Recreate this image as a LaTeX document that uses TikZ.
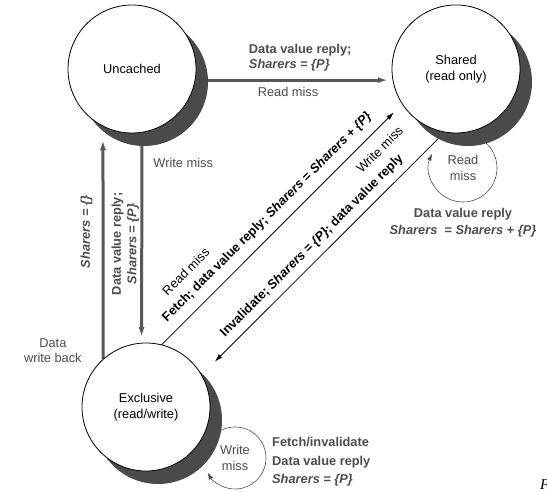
\documentclass[tikz,border=0pt]{standalone}
\usepackage{fontspec}
\setmainfont{Liberation Sans}
\newfontfamily\capfont{Liberation Serif}
\usepackage{xcolor}
\usetikzlibrary{arrows.meta, positioning, shadows, backgrounds}

\definecolor{busgray}{HTML}{585858}
\definecolor{shadegray}{HTML}{4A4A4A}
\definecolor{txtgray}{HTML}{4C4C4C}

\begin{document}
\begin{tikzpicture}[x=1pt, y=1pt,
    font=\fontsize{12.8}{15.5}\selectfont,
    cstate/.style={circle, draw=black, line width=0.8pt, fill=white,
      minimum size=128pt, inner sep=0pt, outer sep=0pt, align=center,
      font=\fontsize{12.8}{16.5}\selectfont,
      drop shadow={shadow xshift=12pt, shadow yshift=-13pt, fill=shadegray, opacity=1}},
    bus/.style={line width=3pt, draw=busgray, >={Latex[length=10pt,width=6pt]}},
    msg/.style={line width=0.8pt, >={Latex[length=8pt,width=5pt]}},
    selfloop/.style={line width=0.6pt, draw=txtgray, ->, >={Latex[length=7pt,width=4.5pt]}},
    lbl/.style={text=txtgray, inner sep=1pt},
    blbl/.style={text=txtgray, inner sep=1pt, font=\fontsize{12.8}{15.5}\selectfont\bfseries},
    dlbl/.style={inner sep=1pt, sloped, anchor=base west},
  ]
  \useasboundingbox (0,0) rectangle (547,491);

  % states
  \node[cstate] (un) at (132,422) {Uncached};
  \node[cstate] (sh) at (456,422) {Shared\\(read only)};
  \node[cstate] (ex) at (146,84) {Exclusive\\(read/write)};

  % self loop texts
  \node[lbl, align=center] (rmiss) at (463,323) {Read\\miss};
  \node[lbl, align=center] (wmiss) at (235,33) {Write\\miss};
  \node[blbl, align=center, below=39pt of rmiss.center,
    font=\fontsize{12.8}{17}\selectfont\bfseries] (rlbl)
    {Data value reply\\\textit{Sharers\ \ = Sharers + \{P\}}};
  \node[blbl, align=left, right=36pt of wmiss.center, yshift=-4pt,
    font=\fontsize{12.8}{18.5}\selectfont\bfseries] (wlbl)
    {Fetch/invalidate\\Data value reply\\\textit{Sharers = \{P\}}};

  \node[anchor=base west, inner sep=0pt, font=\fontsize{15}{15}\selectfont\capfont\itshape] (cut) at (540,2) {F};

  \begin{scope}[on background layer]
    \draw[bus, ->, shorten >=5pt] (un.-10) --
      node[blbl, pos=0.26, anchor=south west, align=left, yshift=6pt] {Data value reply;\\\textit{Sharers = \{P\}}}
      node[lbl, pos=0.47, below=5pt] {Read miss} (sh.-170);

    \draw[bus, ->, shorten >=6pt] (un.-81) --
      node[lbl, pos=0.146, anchor=west, xshift=9pt] {Write miss} (ex.94);

    \draw[bus, ->, shorten >=14pt] (ex.132) --
      node[blbl, pos=0.546, sloped, allow upside down, above=8pt] {\textit{Sharers = \{\}}}
      node[blbl, pos=0.495, sloped, allow upside down, below=6pt, align=center] {Data value reply;\\\textit{Sharers = \{P\}}}
      node[lbl, pos=0.037, left=19pt, align=center] {Data\\write back} (un.-117);

    \draw[msg, ->, shorten >=12pt] (ex.76) --
      node[dlbl, pos=0.055, yshift=12pt, font=\fontsize{12.8}{15.5}\selectfont\bfseries]
        {Fetch; data value reply; \textit{Sharers} = \textit{Sharers} + \textit{\{P\}}}
      node[dlbl, pos=0.11, yshift=30pt] {Read miss} (sh.-147);

    \draw[msg, <-, shorten <=19pt] (ex.30) --
      node[dlbl, pos=0.122, yshift=10pt, font=\fontsize{12.8}{15.5}\selectfont\bfseries]
        {Invalidate; \textit{Sharers} = \textit{\{P\}}; data value reply}
      node[dlbl, pos=0.92, anchor=base east, yshift=29pt] {Write miss} (sh.-100);

    \draw[selfloop] ([shift={(130:31)}]wmiss.center) arc[start angle=130, end angle=-152, radius=31];
    \draw[selfloop] ([shift={(60:34)}]rmiss.center) arc[start angle=60, end angle=-205, radius=34];
  \end{scope}
\end{tikzpicture}
\end{document}
